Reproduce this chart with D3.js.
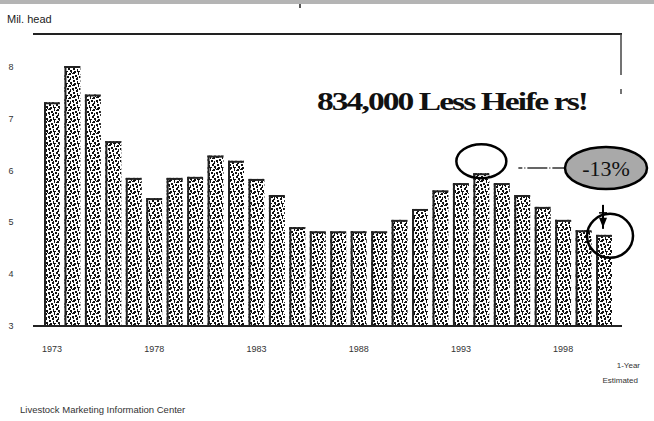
<!DOCTYPE html>
<html>
<head>
<meta charset="utf-8">
<script src="https://cdn.jsdelivr.net/npm/d3@7"></script>
<style>
  html, body { margin: 0; padding: 0; background: #fff; }
  svg { display: block; }
</style>
</head>
<body>
<svg id="chart" width="654" height="421"></svg>
<script>
// ---- data ----
const years = [1973,1974,1975,1976,1977,1978,1979,1980,1981,1982,1983,1984,1985,1986,
               1987,1988,1989,1990,1991,1992,1993,1994,1995,1996,1997,1998,1999,2000];
const heifers = [7.3,8.0,7.45,6.55,5.84,5.45,5.84,5.86,6.27,6.17,5.82,5.51,4.89,4.81,
                 4.81,4.81,4.81,5.03,5.24,5.6,5.74,5.93,5.74,5.51,5.28,5.03,4.83,4.74];
const yTicks = [3,4,5,6,7,8];
const xTickYears = [1973,1978,1983,1988,1993,1998];
const unitLabel = "Mil. head";
const title = "834,000 Less Heife rs!";
const changeLabel = "-13%";
const noteLines = ["1-Year", "Estimated"];
const source = "Livestock Marketing Information Center";

const svg = d3.select("#chart");

// pattern (stipple texture)
const defs = svg.append("defs");
const pat = defs.append("pattern").attr("id","stip").attr("patternUnits","userSpaceOnUse")
  .attr("width",12).attr("height",12);
pat.append("rect").attr("width",12).attr("height",12).attr("fill","#fff");
const dots = [[1,0,2,2],[6,0,1,3],[9,1,2,2],[3,3,2,2],[0,4,2,2],[7,4,2,2],[10,5,1,3],
              [4,6,2,2],[1,8,2,2],[8,8,2,2],[5,9,1,3],[10,10,2,2],[2,11,2,1],[6,11,2,1],
              [0,1,1,1],[11,0,1,1],[3,0,1,1],[8,2,1,1],[5,5,1,1],[1,6,1,1],[9,7,1,1]];
dots.forEach(d => pat.append("rect").attr("x",d[0]).attr("y",d[1]).attr("width",d[2]).attr("height",d[3]).attr("fill","#111"));

// frame
svg.append("rect").attr("x",0).attr("y",0).attr("width",654).attr("height",4).attr("fill","#b4b4b4");
svg.append("line").attr("x1",300).attr("x2",300).attr("y1",4).attr("y2",8).attr("stroke","#222").attr("stroke-width",1.5);
svg.append("line").attr("x1",33).attr("x2",622).attr("y1",34).attr("y2",34).attr("stroke","#222").attr("stroke-width",2);
svg.append("line").attr("x1",621).attr("x2",621).attr("y1",34).attr("y2",75).attr("stroke","#444").attr("stroke-width",1.5);
svg.append("line").attr("x1",621).attr("x2",621).attr("y1",89).attr("y2",94).attr("stroke","#444").attr("stroke-width",1.5);

svg.append("text").attr("x",7).attr("y",23).attr("font-family","Liberation Sans, Arial, sans-serif")
  .attr("font-size",11).attr("fill","#222").text(unitLabel);

// scales
const x = d3.scaleBand().domain(years).range([44, 612]).paddingInner(0.22).paddingOuter(0);
const y = d3.scaleLinear().domain([3, 8]).range([325, 66]);

// y tick labels
svg.append("g").selectAll("text").data(yTicks).join("text")
  .attr("x",11).attr("y",d => y(d)+4).attr("text-anchor","middle")
  .attr("font-family","Liberation Sans, Arial, sans-serif").attr("font-size",9).attr("fill","#333")
  .text(d => d);

// bars
const bars = svg.append("g");
bars.selectAll("rect").data(years).join("rect")
  .attr("x", d => x(d)).attr("width", x.bandwidth())
  .attr("y", (d,i) => y(heifers[i])).attr("height", (d,i) => y(3) - y(heifers[i]))
  .attr("fill","url(#stip)");
bars.selectAll("line.l").data(years).join("line").attr("class","l")
  .attr("x1", d => x(d)+1).attr("x2", d => x(d)+1)
  .attr("y1", (d,i) => y(heifers[i])).attr("y2", y(3))
  .attr("stroke","#222").attr("stroke-width",2);
bars.selectAll("line.t").data(years).join("line").attr("class","t")
  .attr("x1", d => x(d)).attr("x2", d => x(d)+x.bandwidth())
  .attr("y1", (d,i) => y(heifers[i])+1).attr("y2", (d,i) => y(heifers[i])+1)
  .attr("stroke","#222").attr("stroke-width",2);

// x axis line
svg.append("line").attr("x1",33).attr("x2",622).attr("y1",y(3)+1).attr("y2",y(3)+1)
  .attr("stroke","#222").attr("stroke-width",2);

// x labels
svg.append("g").selectAll("text").data(xTickYears).join("text")
  .attr("x", d => x(d) + x.bandwidth()/2).attr("y", 352).attr("text-anchor","middle")
  .attr("font-family","Liberation Sans, Arial, sans-serif").attr("font-size",9).attr("fill","#333")
  .text(d => d);

// note bottom right
svg.append("text").attr("x",640).attr("y",368).attr("text-anchor","end")
  .attr("font-family","Liberation Sans, Arial, sans-serif").attr("font-size",8).attr("fill","#333").text(noteLines[0]);
svg.append("text").attr("x",638).attr("y",383).attr("text-anchor","end")
  .attr("font-family","Liberation Sans, Arial, sans-serif").attr("font-size",8).attr("fill","#333").text(noteLines[1]);

// source
svg.append("text").attr("x",20).attr("y",413)
  .attr("font-family","Liberation Sans, Arial, sans-serif").attr("font-size",9.5).attr("fill","#333").text(source);

// title
svg.append("text").attr("x",317).attr("y",110)
  .attr("font-family","Liberation Serif, Times New Roman, serif").attr("font-weight","bold")
  .attr("font-size",26).attr("fill","#111").attr("textLength",270).attr("lengthAdjust","spacingAndGlyphs")
  .attr("letter-spacing",-1.5)
  .text(title);

// annotations
const peakYear = 1994, lastYear = 2000;
const pi = years.indexOf(peakYear), li = years.indexOf(lastYear);
const px = x(peakYear) + x.bandwidth()/2, pyy = y(heifers[pi]);
svg.append("ellipse").attr("cx", px).attr("cy", pyy - 12).attr("rx", 25).attr("ry", 17)
  .attr("fill","none").attr("stroke","#000").attr("stroke-width",2.5);
svg.append("line").attr("x1", px + 37).attr("x2", 566).attr("y1", 168).attr("y2", 168)
  .attr("stroke","#333").attr("stroke-width",1.5).attr("stroke-dasharray","4,2,1,2,16,0");
svg.append("ellipse").attr("cx",606).attr("cy",168).attr("rx",41).attr("ry",21)
  .attr("fill","#a9a9a9").attr("stroke","#000").attr("stroke-width",2.5);
svg.append("text").attr("x",606).attr("y",176).attr("text-anchor","middle")
  .attr("font-family","Liberation Serif, Times New Roman, serif").attr("font-size",22).attr("fill","#111")
  .text(changeLabel);

const lx = x(lastYear) + x.bandwidth()/2, ly = y(heifers[li]);
svg.append("ellipse").attr("cx", lx + 6).attr("cy", ly + 1).attr("rx", 23).attr("ry", 22)
  .attr("fill","none").attr("stroke","#000").attr("stroke-width",2.5);
svg.append("line").attr("x1", lx - 1).attr("x2", lx - 1).attr("y1", ly - 30).attr("y2", ly - 6)
  .attr("stroke","#000").attr("stroke-width",2);
svg.append("line").attr("x1", lx - 5).attr("x2", lx + 3).attr("y1", ly - 22).attr("y2", ly - 22)
  .attr("stroke","#000").attr("stroke-width",1.5);
svg.append("path").attr("d", `M${lx-5},${ly-17} L${lx+3},${ly-17} L${lx-1},${ly-7} Z`).attr("fill","#000");
</script>
</body>
</html>
